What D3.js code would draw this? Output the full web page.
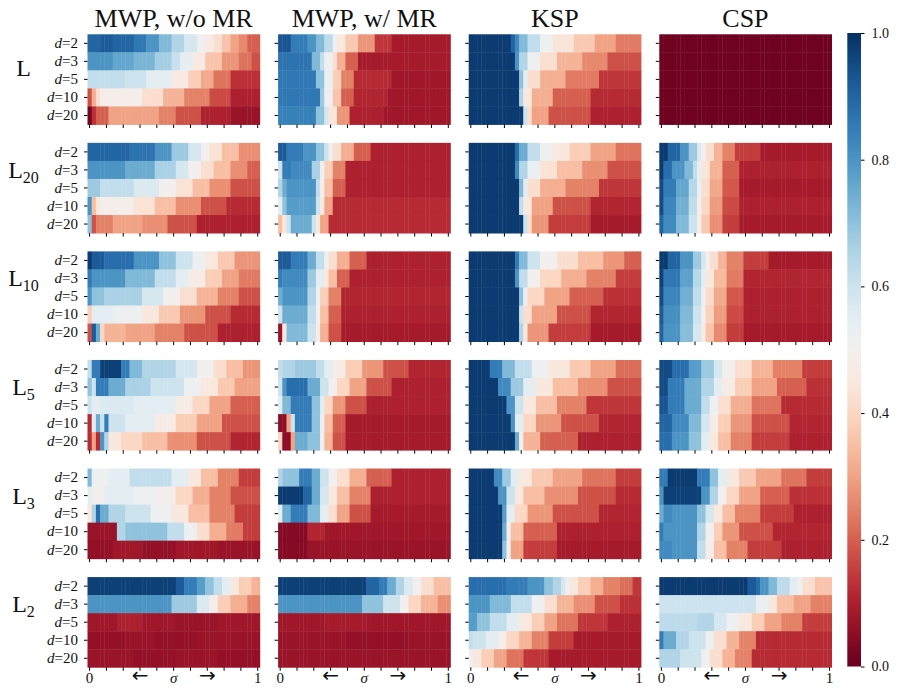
<!DOCTYPE html>
<html>
<head>
<meta charset="utf-8">
<script src="https://cdn.jsdelivr.net/npm/d3@7"></script>
<style>
  body { margin: 0; background: #fff; }
  text { font-family: "Liberation Serif", "DejaVu Serif", serif; fill: #111; }
</style>
</head>
<body>
<svg id="chart" width="897" height="695"></svg>
<script>
var methods = ["MWP, w/o MR", "MWP, w/ MR", "KSP", "CSP"];
var norms = ["L", "L20", "L10", "L5", "L3", "L2"];
var normSubs = ["", "20", "10", "5", "3", "2"];
var dims = ["2", "3", "5", "10", "20"];
var sigmaSteps = d3.range(41);                 // sigma = 0, 0.025, ..., 1
var sigmaTicks = [0, 4, 8, 12, 16, 20, 24, 28, 32, 36, 40];
var sigmaTickLabels = ["0", "", "", "\u2190", "", "\u03c3", "", "\u2192", "", "", "1"];
var colorbarTicks = [0, 0.2, 0.4, 0.6, 0.8, 1.0];

// each row (d=2,3,5,10,20) is a list of runs: [last sigma index, value in %]
var L_noMR = [
  [[2,90],[5,92],[10,90],[13,86],[16,80],[19,72],[22,65],[25,58],[27,52],[29,46],[31,42],[33,36],[35,30],[37,26],[40,20]],
  [[5,80],[10,76],[15,73],[19,67],[21,61],[24,54],[27,46],[31,36],[35,28],[38,23],[40,18]],
  [[8,62],[13,60],[19,55],[23,46],[26,38],[29,31],[33,23],[40,13]],
  [[0,18],[1,32],[2,42],[12,48],[17,42],[22,33],[28,25],[33,17],[40,10]],
  [[0,2],[1,13],[4,20],[16,30],[20,25],[26,18],[33,10],[40,7]]
];
var L_MR = [
  [[2,93],[6,85],[8,80],[10,72],[12,63],[13,52],[15,45],[18,37],[22,28],[26,14],[40,9]],
  [[7,87],[9,72],[10,62],[12,52],[13,42],[15,32],[18,20],[40,9]],
  [[8,86],[10,70],[12,53],[14,38],[17,25],[26,12],[40,8]],
  [[9,86],[10,68],[12,52],[14,36],[17,20],[25,11],[40,8]],
  [[8,84],[10,70],[11,58],[13,44],[16,28],[24,10],[40,8]]
];
var L_KSP = [
  [[9,98],[10,90],[11,82],[13,72],[16,62],[19,52],[24,44],[29,37],[34,30],[40,24]],
  [[10,98],[11,80],[13,65],[16,52],[20,42],[26,33],[32,26],[40,18]],
  [[11,98],[12,70],[13,55],[16,42],[22,32],[30,24],[40,14]],
  [[11,98],[12,65],[14,45],[19,32],[28,20],[40,12]],
  [[12,98],[13,60],[14,42],[18,30],[28,18],[40,10]]
];
var L_CSP = [
  [[40,1]], [[40,1]], [[40,1]], [[40,1]], [[40,1]]
];

var L20_noMR = [
  [[9,90],[15,87],[19,80],[23,68],[26,58],[28,50],[31,43],[35,35],[40,27]],
  [[8,80],[15,75],[20,66],[23,58],[26,50],[29,42],[33,35],[37,27],[40,20]],
  [[2,68],[10,62],[16,57],[20,50],[24,43],[28,35],[33,27],[40,18]],
  [[0,80],[1,35],[2,45],[10,48],[15,43],[20,35],[26,27],[32,18],[40,12]],
  [[0,70],[1,18],[5,25],[12,30],[18,27],[25,18],[40,10]]
];
var L20_MR = [
  [[1,92],[5,85],[8,80],[10,70],[11,60],[12,52],[14,42],[17,32],[21,20],[40,10]],
  [[0,60],[2,85],[7,82],[9,66],[10,52],[12,38],[15,25],[40,10]],
  [[0,65],[1,75],[8,80],[9,62],[10,48],[12,35],[15,20],[40,10]],
  [[0,55],[1,70],[8,78],[9,60],[10,45],[12,30],[40,12]],
  [[0,35],[1,45],[2,60],[7,75],[8,60],[9,45],[11,30],[40,12]]
];
var L20_KSP = [
  [[10,98],[11,88],[13,75],[16,62],[19,52],[23,45],[28,38],[34,30],[40,23]],
  [[10,98],[11,82],[13,65],[16,53],[20,43],[26,35],[32,27],[40,18]],
  [[11,98],[12,72],[13,55],[16,42],[22,32],[30,25],[40,14]],
  [[11,98],[12,62],[14,45],[19,30],[28,18],[40,11]],
  [[12,98],[13,60],[14,42],[18,28],[28,15],[40,9]]
];
var L20_CSP = [
  [[1,98],[4,90],[6,80],[8,68],[9,57],[10,50],[12,42],[14,33],[17,25],[23,15],[40,9]],
  [[0,98],[2,88],[5,80],[7,72],[8,62],[9,54],[11,44],[14,33],[18,20],[40,10]],
  [[0,95],[3,85],[6,76],[8,64],[9,53],[11,42],[14,31],[18,19],[40,9]],
  [[0,95],[3,83],[6,74],[8,62],[9,50],[11,40],[14,29],[18,17],[40,10]],
  [[0,90],[3,82],[6,72],[8,60],[9,48],[11,37],[14,27],[18,15],[40,9]]
];

var L10_noMR = [
  [[0,98],[3,92],[10,88],[16,80],[20,70],[24,60],[27,52],[30,45],[34,37],[40,28]],
  [[0,85],[8,80],[15,72],[20,62],[23,55],[27,47],[31,38],[35,30],[40,24]],
  [[0,80],[3,70],[12,66],[17,58],[21,50],[25,42],[30,33],[35,25],[40,18]],
  [[0,38],[5,55],[12,52],[16,45],[21,37],[27,28],[33,18],[40,12]],
  [[0,18],[1,92],[2,75],[3,40],[8,33],[15,30],[22,25],[30,18],[40,10]]
];
var L10_MR = [
  [[2,92],[6,85],[8,75],[10,62],[11,52],[13,42],[16,32],[20,20],[40,10]],
  [[0,85],[6,82],[8,68],[10,55],[11,45],[13,35],[16,20],[40,10]],
  [[0,75],[6,80],[8,65],[9,52],[11,38],[14,25],[40,11]],
  [[0,60],[6,75],[8,62],[9,50],[11,35],[14,20],[40,10]],
  [[0,7],[1,45],[6,72],[8,60],[9,48],[11,32],[14,18],[40,9]]
];
var L10_KSP = [
  [[10,98],[11,85],[13,72],[16,60],[20,50],[25,42],[31,35],[36,28],[40,20]],
  [[10,98],[11,80],[13,62],[16,50],[21,40],[27,32],[34,25],[40,15]],
  [[11,98],[12,70],[13,52],[17,40],[23,30],[31,20],[40,13]],
  [[11,98],[12,60],[14,42],[20,30],[28,18],[40,11]],
  [[11,98],[12,65],[13,45],[18,28],[28,15],[40,9]]
];
var L10_CSP = [
  [[1,98],[4,90],[7,80],[9,68],[10,58],[11,50],[13,42],[15,33],[19,25],[25,15],[40,9]],
  [[0,97],[4,86],[7,77],[9,64],[10,55],[12,45],[15,34],[19,24],[40,11]],
  [[0,95],[4,83],[7,74],[9,62],[10,52],[12,41],[15,31],[19,19],[40,10]],
  [[0,92],[4,81],[7,72],[9,60],[10,50],[12,39],[15,29],[19,17],[40,10]],
  [[0,90],[4,80],[7,71],[9,58],[10,47],[12,36],[15,26],[19,15],[40,9]]
];

var L5_noMR = [
  [[0,62],[2,85],[7,97],[9,85],[12,72],[20,65],[25,58],[29,50],[32,42],[36,35],[40,28]],
  [[0,70],[1,60],[4,85],[8,75],[14,66],[22,60],[26,52],[30,45],[34,37],[40,30]],
  [[0,60],[2,55],[10,57],[20,55],[24,47],[28,40],[33,30],[40,20]],
  [[0,12],[1,55],[2,75],[3,60],[4,85],[8,60],[15,55],[20,47],[25,38],[31,30],[40,18]],
  [[0,12],[1,30],[2,12],[3,80],[4,65],[7,45],[12,40],[18,35],[25,27],[33,18],[40,11]]
];
var L5_MR = [
  [[0,62],[3,65],[8,68],[10,62],[12,55],[15,47],[19,38],[24,28],[30,18],[40,11]],
  [[0,60],[1,80],[6,88],[9,75],[11,60],[13,50],[16,40],[20,30],[26,18],[40,10]],
  [[0,55],[2,72],[7,85],[9,70],[10,55],[12,40],[15,28],[20,18],[40,10]],
  [[1,5],[2,30],[3,60],[7,85],[9,70],[10,52],[12,35],[15,20],[40,9]],
  [[0,40],[2,5],[3,30],[6,75],[9,70],[10,50],[12,33],[15,18],[40,9]]
];
var L5_KSP = [
  [[4,98],[7,85],[10,72],[14,62],[18,52],[23,45],[28,37],[34,30],[40,22]],
  [[6,98],[9,82],[12,68],[15,55],[19,45],[25,35],[32,27],[40,18]],
  [[8,98],[10,80],[12,60],[15,45],[20,35],[27,25],[40,14]],
  [[9,98],[10,80],[12,55],[15,40],[21,28],[30,18],[40,11]],
  [[10,98],[11,75],[12,50],[16,33],[25,20],[40,10]]
];
var L5_CSP = [
  [[2,95],[6,88],[9,78],[12,68],[14,58],[17,50],[21,42],[26,33],[33,25],[40,15]],
  [[1,95],[5,85],[9,75],[12,65],[14,55],[17,47],[21,38],[27,30],[34,20],[40,13]],
  [[1,93],[5,85],[9,75],[11,62],[13,52],[16,42],[21,32],[28,23],[40,12]],
  [[2,90],[6,82],[9,72],[11,58],[13,48],[16,38],[21,28],[30,18],[40,11]],
  [[2,88],[6,80],[9,70],[11,55],[13,45],[16,35],[21,25],[30,15],[40,10]]
];

var L3_noMR = [
  [[0,72],[4,52],[9,55],[19,62],[23,55],[26,45],[30,35],[35,25],[40,15]],
  [[0,55],[3,50],[10,55],[16,52],[20,48],[24,40],[28,32],[33,25],[40,18]],
  [[0,45],[1,65],[2,88],[4,75],[8,65],[14,60],[19,52],[23,45],[28,35],[34,25],[40,15]],
  [[6,7],[8,65],[18,70],[22,62],[25,52],[28,42],[32,32],[36,24],[40,15]],
  [[5,6],[12,8],[20,6],[30,8],[40,7]]
];
var L3_MR = [
  [[0,65],[4,70],[7,85],[9,75],[11,60],[13,50],[16,42],[20,32],[26,20],[40,10]],
  [[5,98],[7,90],[9,75],[11,58],[13,45],[16,35],[21,25],[40,10]],
  [[0,55],[2,75],[6,85],[9,72],[11,55],[13,42],[16,30],[21,18],[40,9]],
  [[6,4],[10,11],[40,8]],
  [[6,4],[40,7]]
];
var L3_KSP = [
  [[5,98],[7,82],[9,68],[11,55],[14,45],[19,37],[26,30],[34,23],[40,15]],
  [[6,98],[8,80],[10,60],[12,45],[17,35],[25,27],[34,18],[40,12]],
  [[7,98],[8,78],[10,55],[13,40],[19,28],[30,18],[40,11]],
  [[7,98],[8,75],[9,52],[12,35],[20,20],[40,10]],
  [[7,98],[8,70],[9,50],[12,30],[20,15],[40,9]]
];
var L3_CSP = [
  [[1,85],[8,98],[11,85],[13,70],[15,55],[18,45],[22,37],[28,30],[34,23],[40,15]],
  [[0,80],[9,97],[11,80],[13,65],[15,50],[18,40],[23,30],[30,20],[40,13]],
  [[0,75],[2,82],[8,80],[10,70],[12,58],[14,45],[17,35],[23,25],[31,15],[40,10]],
  [[0,85],[8,80],[10,65],[12,50],[14,38],[18,28],[26,18],[40,11]],
  [[2,82],[8,80],[10,62],[12,48],[15,35],[20,25],[28,15],[40,10]]
];

var L2_noMR = [
  [[20,97],[22,92],[25,85],[27,78],[29,70],[31,62],[33,55],[35,45],[38,38],[40,33]],
  [[19,80],[25,68],[28,57],[30,48],[33,38],[37,32],[40,25]],
  [[6,8],[12,10],[20,8],[30,7],[40,8]],
  [[8,6],[15,7],[25,6],[40,7]],
  [[10,7],[20,6],[30,7],[40,6]]
];
var L2_MR = [
  [[20,97],[23,90],[25,85],[27,75],[29,65],[31,57],[33,50],[36,42],[40,35]],
  [[19,80],[24,70],[28,60],[30,50],[33,40],[37,33],[40,27]],
  [[10,8],[20,9],[40,8]],
  [[15,7],[30,6],[40,7]],
  [[40,7]]
];
var L2_KSP = [
  [[8,88],[13,85],[17,80],[19,70],[21,65],[22,58],[23,52],[25,45],[28,38],[31,32],[35,25],[38,22],[40,14]],
  [[4,80],[9,72],[14,62],[17,52],[20,42],[24,33],[29,27],[35,18],[40,13]],
  [[1,78],[4,70],[8,62],[11,55],[14,45],[17,38],[20,30],[25,23],[32,14],[40,10]],
  [[0,62],[3,60],[6,55],[8,48],[11,40],[14,33],[18,25],[24,15],[40,9]],
  [[0,52],[2,45],[5,38],[8,30],[12,23],[18,14],[40,9]]
];
var L2_CSP = [
  [[20,98],[22,92],[23,88],[25,80],[27,72],[30,63],[32,55],[33,50],[36,42],[40,36]],
  [[22,60],[25,53],[27,45],[31,35],[35,30],[40,25]],
  [[8,63],[12,65],[15,58],[18,52],[21,45],[24,38],[28,30],[33,25],[40,15]],
  [[0,85],[3,75],[6,65],[10,60],[12,52],[15,42],[18,33],[22,25],[40,12]],
  [[4,65],[9,60],[11,52],[14,42],[17,33],[21,25],[40,12]]
];

var grid = [
  [L_noMR, L_MR, L_KSP, L_CSP],
  [L20_noMR, L20_MR, L20_KSP, L20_CSP],
  [L10_noMR, L10_MR, L10_KSP, L10_CSP],
  [L5_noMR, L5_MR, L5_KSP, L5_CSP],
  [L3_noMR, L3_MR, L3_KSP, L3_CSP],
  [L2_noMR, L2_MR, L2_KSP, L2_CSP]
];

function expand(runs) {
  var out = [];
  var start = 0;
  runs.forEach(function (r) {
    for (var c = start; c <= r[0]; c++) out.push(r[1] / 100);
    start = r[0] + 1;
  });
  return out;
}

function isArrow(s) { return s === "\u2190" || s === "\u2192"; }

var svg = d3.select("#chart");
var color = d3.interpolateRdBu;

var panelX = d3.scaleBand().domain(methods).range([87.5, 831.6]).paddingInner(0.096);
var panelY = d3.scaleBand().domain(norms).range([34.3, 667.3]).paddingInner(0.169);

var cellX = d3.scaleBand().domain(sigmaSteps).range([0, panelX.bandwidth()]);
var cellY = d3.scaleBand().domain(dims).range([0, panelY.bandwidth()]);

norms.forEach(function (norm, ri) {
  methods.forEach(function (method, ci) {
    var g = svg.append("g")
      .attr("transform", "translate(" + [panelX(method), panelY(norm)] + ")");

    var cells = [];
    grid[ri][ci].forEach(function (runs, di) {
      expand(runs).forEach(function (v, si) {
        cells.push({ s: si, d: dims[di], v: v });
      });
    });

    g.selectAll("rect")
      .data(cells)
      .enter()
      .append("rect")
      .attr("x", function (d) { return cellX(d.s); })
      .attr("y", function (d) { return cellY(d.d); })
      .attr("width", cellX.bandwidth() + 0.4)
      .attr("height", cellY.bandwidth() + 0.4)
      .attr("fill", function (d) { return color(d.v); });

    var last = ri === norms.length - 1;
    var xAxis = g.append("g")
      .attr("transform", "translate(0," + panelY.bandwidth() + ")")
      .call(d3.axisBottom(cellX)
        .tickValues(sigmaTicks)
        .tickSize(3.5)
        .tickPadding(1.5)
        .tickFormat(function (d, i) { return last ? sigmaTickLabels[i] : ""; }));
    xAxis.select(".domain").remove();
    xAxis.attr("font-family", null).attr("font-size", null);
    xAxis.selectAll("text")
      .style("font-size", function (d, i) { return isArrow(sigmaTickLabels[i]) ? "20px" : "15px"; })
      .attr("dy", function (d, i) { return isArrow(sigmaTickLabels[i]) ? "0.5em" : "0.71em"; })
      .style("font-family", function (d, i) {
        return isArrow(sigmaTickLabels[i]) ? "'DejaVu Sans', sans-serif" : null;
      })
      .style("font-style", function (d, i) { return sigmaTickLabels[i] === "\u03c3" ? "italic" : "normal"; });

    var yAxis = g.append("g")
      .call(d3.axisLeft(cellY).tickSize(3.5).tickPadding(6)
        .tickFormat(function () { return ""; }));
    yAxis.select(".domain").remove();
    yAxis.attr("font-family", null).attr("font-size", null);
    if (ci === 0) {
      yAxis.selectAll("text")
        .style("font-size", "15px")
        .each(function (d) {
          var t = d3.select(this);
          t.append("tspan").style("font-style", "italic").text("d");
          t.append("tspan").text("=" + d);
        });
    }
  });
});

// column titles
svg.selectAll(".title")
  .data(methods)
  .enter()
  .append("text")
  .attr("class", "title")
  .attr("x", function (d) { return panelX(d) + panelX.bandwidth() / 2; })
  .attr("y", 26.5)
  .attr("text-anchor", "middle")
  .style("font-size", "26px")
  .text(function (d) { return d; });

// row labels
norms.forEach(function (norm, ri) {
  var sub = normSubs[ri];
  var t = svg.append("text")
    .attr("x", 23.5)
    .attr("y", panelY(norm) + (sub ? 35 : 42))
    .attr("text-anchor", "middle")
    .style("font-size", "24px");
  t.append("tspan").text("L");
  if (sub) {
    t.append("tspan").attr("dy", 5).style("font-size", "16px").text(sub);
  }
});

// colorbar
var cbX = 847.3, cbW = 13.7;
var cbScale = d3.scaleLinear().domain([0, 1]).range([666.5, 33]);
var defs = svg.append("defs");
var grad = defs.append("linearGradient")
  .attr("id", "cb").attr("x1", 0).attr("x2", 0).attr("y1", 1).attr("y2", 0);
grad.selectAll("stop")
  .data(d3.range(0, 1.0001, 0.02))
  .enter()
  .append("stop")
  .attr("offset", function (d) { return d; })
  .attr("stop-color", function (d) { return color(d); });

svg.append("rect")
  .attr("x", cbX)
  .attr("y", cbScale(1))
  .attr("width", cbW)
  .attr("height", cbScale(0) - cbScale(1))
  .attr("fill", "url(#cb)");

var cbAxis = svg.append("g")
  .attr("transform", "translate(" + (cbX + cbW) + ",0)")
  .call(d3.axisRight(cbScale)
    .tickValues(colorbarTicks)
    .tickFormat(d3.format(".1f"))
    .tickSize(3.5)
    .tickPadding(7));
cbAxis.select(".domain").remove();
cbAxis.attr("font-family", null).attr("font-size", null);
cbAxis.selectAll("text").style("font-size", "14px");
</script>
</body>
</html>
